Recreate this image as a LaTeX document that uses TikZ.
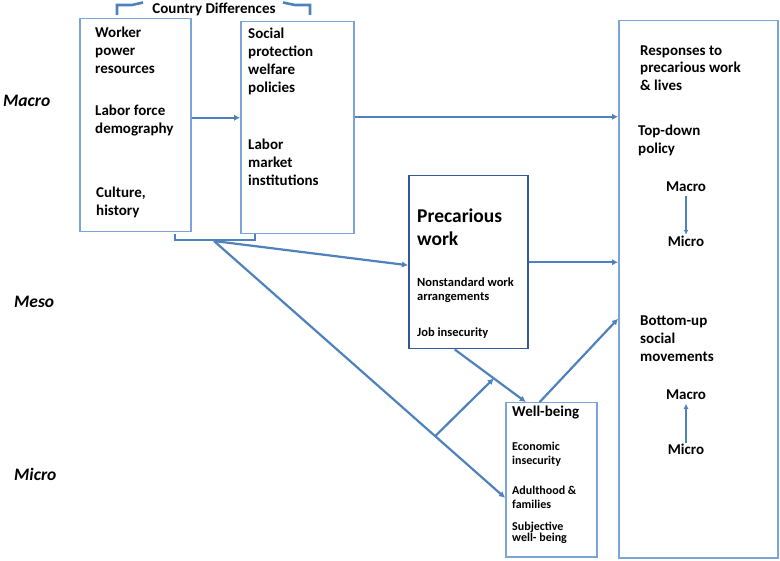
\documentclass[tikz,border=0pt]{standalone}
\usepackage{fontspec}
\setmainfont{Carlito}
\usetikzlibrary{arrows.meta}

\definecolor{linkblue}{RGB}{79,129,189}
\definecolor{boxblue}{RGB}{125,164,214}
\definecolor{precblue}{RGB}{52,86,156}

% Multi-line nodes sit on the baseline of their last line.
\tikzset{
  frame/.style={draw=boxblue,line width=1.5pt,inner sep=0,anchor=north west},
  link/.style={draw=linkblue,line width=2.2pt,-{Latex[length=6pt,width=6.5pt]}},
  thinlink/.style={draw=linkblue,line width=1.4pt,-{Latex[length=5pt,width=5pt]}},
  rim/.style={draw=linkblue,line width=2.2pt},
  txt/.style={font=\bfseries\fontsize{15}{18}\selectfont,align=left,anchor=base west,inner sep=0},
  smalltxt/.style={font=\bfseries\fontsize{12.5}{14}\selectfont,align=left,anchor=base west,inner sep=0},
  level/.style={font=\bfseries\itshape\fontsize{17.5}{20}\selectfont,anchor=base west,inner sep=0}
}

\begin{document}
\begin{tikzpicture}[x=1pt,y=-1pt]
  \useasboundingbox (0,0) rectangle (780,561);

  % The levels on the left.
  \node[level] (macro) at (3,107) {Macro};
  \node[level] (meso) at (14,308) {Meso};
  \node[level] (micro) at (14,481) {Micro};

  % Country differences: two boxes under a brace.
  \node[frame,minimum width=111pt,minimum height=213pt] (labor) at (79,18) {};
  \node[frame,minimum width=113pt,minimum height=212pt] (policy) at (240,21) {};

  \node[txt] (worker) at (95,73.5) {Worker\\power\\resources};
  \node[txt] (demog) at (95,133.5) {Labor force\\demography};
  \node[txt] (culture) at (96,215.5) {Culture,\\history};
  \node[txt] (social) at (248,92.5) {Social\\protection\\welfare\\policies};
  \node[txt] (market) at (248,185.5) {Labor\\market\\institutions};

  \node[txt,anchor=base] (country) at (214,13.5) {Country Differences};
  \draw[rim,line width=2.6pt] (117,15) -- (117,5) -- (132,5) -- (143,2.5);
  \draw[rim,line width=2.6pt] (283,2.5) -- (295,5) -- (310,5) -- (310,15);

  % The brace under the two boxes.
  \coordinate (cd) at (214,241);
  \draw[rim] (175,234) -- (175,240) -- (255,240) -- (255,234);

  % Precarious work.
  \node[frame,draw=precblue,minimum width=119pt,minimum height=173pt] (prec) at (408,175) {};
  \node[txt,font=\bfseries\fontsize{19.5}{23}\selectfont] (prectitle) at (417,245.5) {Precarious\\work};
  \node[smalltxt] (nonstd) at (417,300.5) {Nonstandard work\\arrangements};
  \node[smalltxt] (jobins) at (417,336.5) {Job insecurity};

  % Well-being.
  \node[frame,minimum width=91pt,minimum height=154pt] (well) at (505,402) {};
  \node[txt] (welltitle) at (512,416.5) {Well-being};
  \node[smalltxt,font=\bfseries\fontsize{12}{14}\selectfont] (econ) at (512,464.5) {Economic\\insecurity};
  \node[smalltxt,font=\bfseries\fontsize{12}{14}\selectfont] (adult) at (512,508.5) {Adulthood \&\\families};
  \node[smalltxt,font=\bfseries\fontsize{12}{11}\selectfont] (subj) at (512,541.5) {Subjective\\well- being};

  % Responses.
  \node[frame,minimum width=159pt,minimum height=537pt] (resp) at (618,20) {};
  \node[txt,font=\bfseries\fontsize{15}{17.5}\selectfont] (resptitle) at (640,90.5) {Responses to\\precarious work\\\& lives};
  \node[txt] (topdown) at (638,153.5) {Top-down\\policy};
  \node[txt,anchor=base] (tdmacro) at (686,191.5) {Macro};
  \node[txt,anchor=base] (tdmicro) at (686,246.5) {Micro};
  \node[txt] (bottomup) at (640,361.5) {Bottom-up\\social\\movements};
  \node[txt,anchor=base] (bumacro) at (686,399.5) {Macro};
  \node[txt,anchor=base] (bumicro) at (686,454.5) {Micro};

  \draw[thinlink,shorten <=4pt,shorten >=1pt] (tdmacro.south) -- (tdmicro.north);
  \draw[thinlink,shorten <=1pt,shorten >=4pt] (bumicro.north) -- (bumacro.south);

  % Connect the boxes.
  \draw[link] ([yshift=7.5pt]labor.east) coordinate (l1) -- (l1 -| policy.west);
  \draw[link] ([yshift=11pt]policy.east) coordinate (p1) -- (p1 -| resp.west);
  \draw[link] (prec.east) -- (prec.east -| resp.west);
  \draw[link] ([xshift=-11.5pt]well.north) -- ([yshift=-29.5pt]resp.west);

  \draw[link] (cd) -- ([yshift=-3pt]prec.west);
  \draw[link] (cd) -- coordinate[pos=0.76] (fork) ([yshift=-18pt]well.west);
  \draw[link] ([xshift=-13.5pt]prec.south) -- coordinate[pos=0.55] (join) ([xshift=-25.5pt]well.north);
  \draw[link] (fork) -- (join);
\end{tikzpicture}
\end{document}
